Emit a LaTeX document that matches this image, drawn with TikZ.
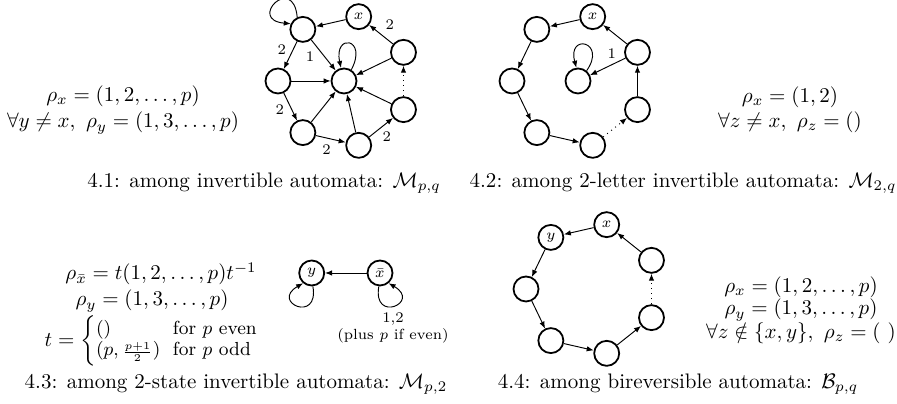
\documentclass[tikz,border=0pt]{standalone}
\usepackage{amsmath}
\usetikzlibrary{arrows.meta}
\begin{document}
\begin{tikzpicture}[x=0.476pt,y=0.476pt,
  st/.style={circle,draw,line width=0.85pt,minimum size=11.9pt,inner sep=0pt,font=\fontsize{7}{8}\selectfont},
  ed/.style={line width=0.45pt,-{Latex[length=3.3pt,width=2.6pt]}},
  dt/.style={ed,dotted},
  lbl/.style={font=\fontsize{7}{8}\selectfont,inner sep=0pt},
  txt/.style={inner sep=0pt,align=center},
  ]
\useasboundingbox (0,0) rectangle (897,404);

% ---------- Panel 4.1 ----------
\begin{scope}[shift={(344,323)}]
\node[st] (c1) at (0,0) {};
\node[st] (a1) at (-41.15,51.6) {};
\node[st] (x1) at (14.69,64.34) {$x$};
\node[st] (r1) at (59.47,28.64) {};
\node[st] (s1) at (59.47,-28.64) {};
\node[st] (b1) at (14.69,-64.34) {};
\node[st] (d1) at (-41.15,-51.6) {};
\node[st] (l1) at (-66,0) {};
\end{scope}
\draw[ed] (a1.115) .. controls +(95:44) and +(175:44) .. (a1.155);
\draw[ed] (c1.57) .. controls +(62:36) and +(102:36) .. (c1.103);
\draw[ed] (x1) -- (a1);
\draw[ed] (a1) -- node[lbl,midway,xshift=-4.1pt,yshift=2.5pt] {2} (l1);
\draw[ed] (a1) -- node[lbl,midway,xshift=-6.4pt,yshift=-0.7pt] {1} (c1);
\draw[ed] (l1) -- (c1);
\draw[ed] (l1) -- node[lbl,midway,xshift=-5pt,yshift=-1.5pt] {2} (d1);
\draw[ed] (d1) -- (c1);
\draw[ed] (d1) -- node[lbl,midway,xshift=-2pt,yshift=-5.2pt] {2} (b1);
\draw[ed] (b1) -- (c1);
\draw[ed] (b1) -- node[lbl,midway,xshift=2.7pt,yshift=-4.4pt] {2} (s1);
\draw[ed] (s1) -- (c1);
\draw[dt] (s1) -- (r1);
\draw[ed] (r1) -- (c1);
\draw[ed] (r1) -- node[lbl,midway,xshift=4.2pt,yshift=4.5pt] {2} (x1);

\node[txt] (t1a) at (123,308) {$\rho_x = (1,2,\ldots,p)$};
\node[txt] (t1b) at (123,281) {$\forall y \neq x,\ \rho_y = (1,3,\ldots,p)$};
\node[txt] (cap1) at (264,221) {4.1: among invertible automata: $\mathcal{M}_{p,q}$};

% ---------- Panel 4.2 ----------
\begin{scope}[shift={(578,323)}]
\node[st] (c2) at (0,0) {};
\node[st] (n1) at (-41.15,51.6) {};
\node[st] (x2) at (14.69,64.34) {$x$};
\node[st] (n6) at (59.47,28.64) {};
\node[st] (n5) at (59.47,-28.64) {};
\node[st] (n4) at (14.69,-64.34) {};
\node[st] (n3) at (-41.15,-51.6) {};
\node[st] (n2) at (-66,0) {};
\end{scope}
\draw[ed] (c2.50) .. controls +(55:36) and +(105:36) .. (c2.97);
\draw[ed] (x2) -- (n1);
\draw[ed] (n1) -- (n2);
\draw[ed] (n2) -- (n3);
\draw[ed] (n3) -- (n4);
\draw[dt] (n4) -- (n5);
\draw[ed] (n5) -- (n6);
\draw[ed] (n6) -- (x2);
\draw[ed] (n6) -- node[lbl,midway,xshift=1.9pt,yshift=6.4pt] {1} (c2);

\node[txt] (t2a) at (790,307) {$\rho_x = (1,2)$};
\node[txt] (t2b) at (790,282) {$\forall z \neq x,\ \rho_z = ()$};
\node[txt] (cap2) at (683,221) {4.2: among 2-letter invertible automata: $\mathcal{M}_{2,q}$};

% ---------- Panel 4.3 ----------
\node[st] (y3) at (311.7,131) {$y$};
\node[st] (x3) at (380,131) {$\bar{x}$};
\draw[ed] (x3) -- (y3);
\draw[ed] (y3.-85) .. controls +(-80:38) and +(-150:38) .. (y3.-130);
\draw[ed] (x3.-95) .. controls +(-100:38) and +(-30:38) .. (x3.-50);
\node[lbl,align=center] (l3) at (393,76) {1,2\\(plus $p$ if even)};

\node[txt] (t3a) at (161,130) {$\rho_{\bar{x}} = t(1,2,\ldots,p)t^{-1}$};
\node[txt] (t3b) at (152,103) {$\rho_y = (1,3,\ldots,p)$};
\node[txt] (t3c) at (152,63) {$t = \left\{\vcenter{\hbox{\fontsize{9}{10}\selectfont$\begin{array}{@{}l@{\hspace{6pt}}l@{}} () & \text{for $p$ even}\\ (p,{\scriptstyle\frac{p+1}{2}}) & \text{for $p$ odd}\end{array}$}}\right.$};
\node[txt] (cap3) at (236,20) {4.3: among 2-state invertible automata: $\mathcal{M}_{p,2}$};

% ---------- Panel 4.4 ----------
\begin{scope}[shift={(592,115)}]
\node[st] (y4) at (-41.15,51.6) {$y$};
\node[st] (x4) at (14.69,64.34) {$x$};
\node[st] (m5) at (59.47,28.64) {};
\node[st] (m4) at (59.47,-28.64) {};
\node[st] (m3) at (14.69,-64.34) {};
\node[st] (m2) at (-41.15,-51.6) {};
\node[st] (m1) at (-66,0) {};
\end{scope}
\draw[ed] (x4) -- (y4);
\draw[ed] (y4) -- (m1);
\draw[ed] (m1) -- (m2);
\draw[ed] (m2) -- (m3);
\draw[ed] (m3) -- (m4);
\draw[dt] (m4) -- (m5);
\draw[ed] (m5) -- (x4);

\node[txt] (t4a) at (801,117) {$\rho_x = (1,2,\ldots,p)$};
\node[txt] (t4b) at (801,94) {$\rho_y = (1,3,\ldots,p)$};
\node[txt] (t4c) at (801,71) {$\forall z \notin \{x,y\},\ \rho_z = (\ )$};
\node[txt] (cap4) at (678,20) {4.4: among bireversible automata: $\mathcal{B}_{p,q}$};
\end{tikzpicture}
\end{document}
